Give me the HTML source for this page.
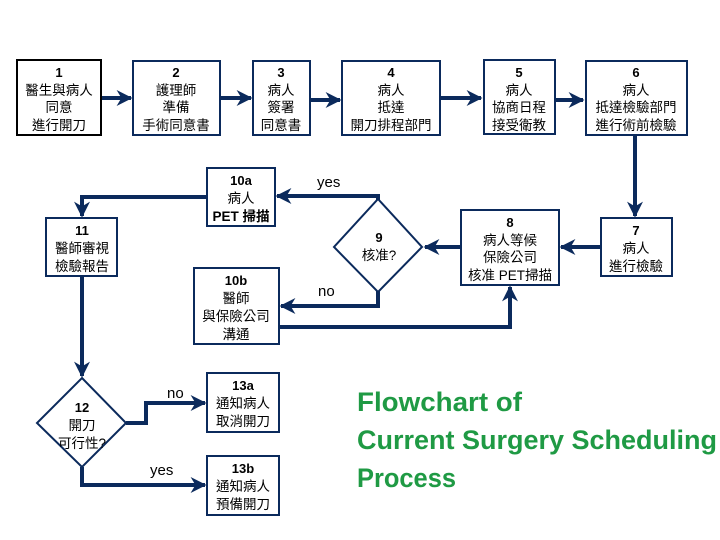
<!DOCTYPE html>
<html><head><meta charset="utf-8"><style>
html,body{margin:0;padding:0;background:#fff;}
svg{display:block;}
text{font-family:"Liberation Sans","Noto Sans CJK TC",sans-serif;fill:#000;}
.n{font-weight:bold;font-size:13px;}
.c{font-size:13.5px;}
.l{font-size:15px;}
</style></head><body>
<svg width="720" height="540" viewBox="0 0 720 540" xmlns="http://www.w3.org/2000/svg">
<defs>
<marker id="a" viewBox="0 0 10 10" refX="9" refY="5" markerWidth="4" markerHeight="4" orient="auto" markerUnits="strokeWidth">
<path d="M0,0 L10,5 L0,10 L3,5 Z" fill="#0b2a5c"/></marker>
</defs>
<g fill="none" stroke="#0b2a5c" stroke-width="4">
<line x1="101" y1="98" x2="131" y2="98" marker-end="url(#a)"/>
<line x1="220" y1="98" x2="251" y2="98" marker-end="url(#a)"/>
<line x1="310" y1="100" x2="340" y2="100" marker-end="url(#a)"/>
<line x1="440" y1="98" x2="481" y2="98" marker-end="url(#a)"/>
<line x1="555" y1="100" x2="583" y2="100" marker-end="url(#a)"/>
<line x1="635" y1="135" x2="635" y2="216" marker-end="url(#a)"/>
<line x1="601" y1="247" x2="561" y2="247" marker-end="url(#a)"/>
<line x1="461" y1="247" x2="425" y2="247" marker-end="url(#a)"/>
<polyline points="378,205 378,196 277,196" marker-end="url(#a)"/>
<polyline points="207,197 82,197 82,216" marker-end="url(#a)"/>
<polyline points="378,290 378,306 281,306" marker-end="url(#a)"/>
<polyline points="279,327 510,327 510,287" marker-end="url(#a)"/>
<line x1="82" y1="276" x2="82" y2="376" marker-end="url(#a)"/>
<polyline points="126,423 146,423 146,403 205,403" marker-end="url(#a)"/>
<polyline points="82,467 82,485 205,485" marker-end="url(#a)"/>
</g>
<g fill="#fff" stroke="#0b2a5c" stroke-width="2">
<rect x="17" y="60" width="84" height="75" stroke="#000"/>
<rect x="133" y="61" width="87" height="74"/>
<rect x="253" y="61" width="57" height="74"/>
<rect x="342" y="61" width="98" height="74"/>
<rect x="484" y="60" width="71" height="74"/>
<rect x="586" y="61" width="101" height="74"/>
<rect x="207" y="168" width="68" height="58"/>
<rect x="46" y="218" width="71" height="58"/>
<rect x="194" y="268" width="85" height="76"/>
<rect x="461" y="210" width="98" height="75"/>
<rect x="601" y="218" width="71" height="58"/>
<rect x="207" y="373" width="72" height="59"/>
<rect x="207" y="456" width="72" height="59"/>
<polygon points="378,199 422,247 378,292 334,247"/>
<polygon points="82,378 126,423 82,467 37,423"/>
</g>
<g text-anchor="middle">
<text x="59" y="77" class="n">1</text><text x="59" y="95" class="c">醫生與病人</text><text x="59" y="112" class="c">同意</text><text x="59" y="130" class="c">進行開刀</text>
<text x="176" y="77" class="n">2</text><text x="176" y="95" class="c">護理師</text><text x="176" y="112" class="c">準備</text><text x="176" y="130" class="c">手術同意書</text>
<text x="281" y="77" class="n">3</text><text x="281" y="95" class="c">病人</text><text x="281" y="112" class="c">簽署</text><text x="281" y="130" class="c">同意書</text>
<text x="391" y="77" class="n">4</text><text x="391" y="95" class="c">病人</text><text x="391" y="112" class="c">抵達</text><text x="391" y="130" class="c">開刀排程部門</text>
<text x="519" y="77" class="n">5</text><text x="519" y="95" class="c">病人</text><text x="519" y="112" class="c">協商日程</text><text x="519" y="130" class="c">接受衛教</text>
<text x="636" y="77" class="n">6</text><text x="636" y="95" class="c">病人</text><text x="636" y="112" class="c">抵達檢驗部門</text><text x="636" y="130" class="c">進行術前檢驗</text>
<text x="241" y="185" class="n">10a</text><text x="241" y="203" class="c">病人</text><text x="241" y="221" class="c" font-weight="bold">PET 掃描</text>
<text x="82" y="235" class="n">11</text><text x="82" y="253" class="c">醫師審視</text><text x="82" y="271" class="c">檢驗報告</text>
<text x="236" y="285" class="n">10b</text><text x="236" y="303" class="c">醫師</text><text x="236" y="321" class="c">與保險公司</text><text x="236" y="339" class="c">溝通</text>
<text x="379" y="242" class="n">9</text><text x="379" y="260" class="c">核准?</text>
<text x="510" y="227" class="n">8</text><text x="510" y="245" class="c">病人等候</text><text x="510" y="262" class="c">保險公司</text><text x="510" y="280" class="c">核准 PET掃描</text>
<text x="636" y="235" class="n">7</text><text x="636" y="253" class="c">病人</text><text x="636" y="271" class="c">進行檢驗</text>
<text x="82" y="412" class="n">12</text><text x="82" y="430" class="c">開刀</text><text x="82" y="448" class="c">可行性?</text>
<text x="243" y="390" class="n">13a</text><text x="243" y="408" class="c">通知病人</text><text x="243" y="426" class="c">取消開刀</text>
<text x="243" y="473" class="n">13b</text><text x="243" y="491" class="c">通知病人</text><text x="243" y="509" class="c">預備開刀</text>
</g>
<text x="317" y="187" class="l">yes</text>
<text x="318" y="296" class="l">no</text>
<text x="167" y="398" class="l">no</text>
<text x="150" y="475" class="l">yes</text>
<g font-weight="bold" font-size="27">
<text x="357" y="411" style="fill:#1f9a44" textLength="165" lengthAdjust="spacingAndGlyphs">Flowchart of</text>
<text x="357" y="449" style="fill:#1f9a44" textLength="360" lengthAdjust="spacingAndGlyphs">Current Surgery Scheduling</text>
<text x="357" y="487" style="fill:#1f9a44" textLength="99" lengthAdjust="spacingAndGlyphs">Process</text>
</g>
</svg>
</body></html>
